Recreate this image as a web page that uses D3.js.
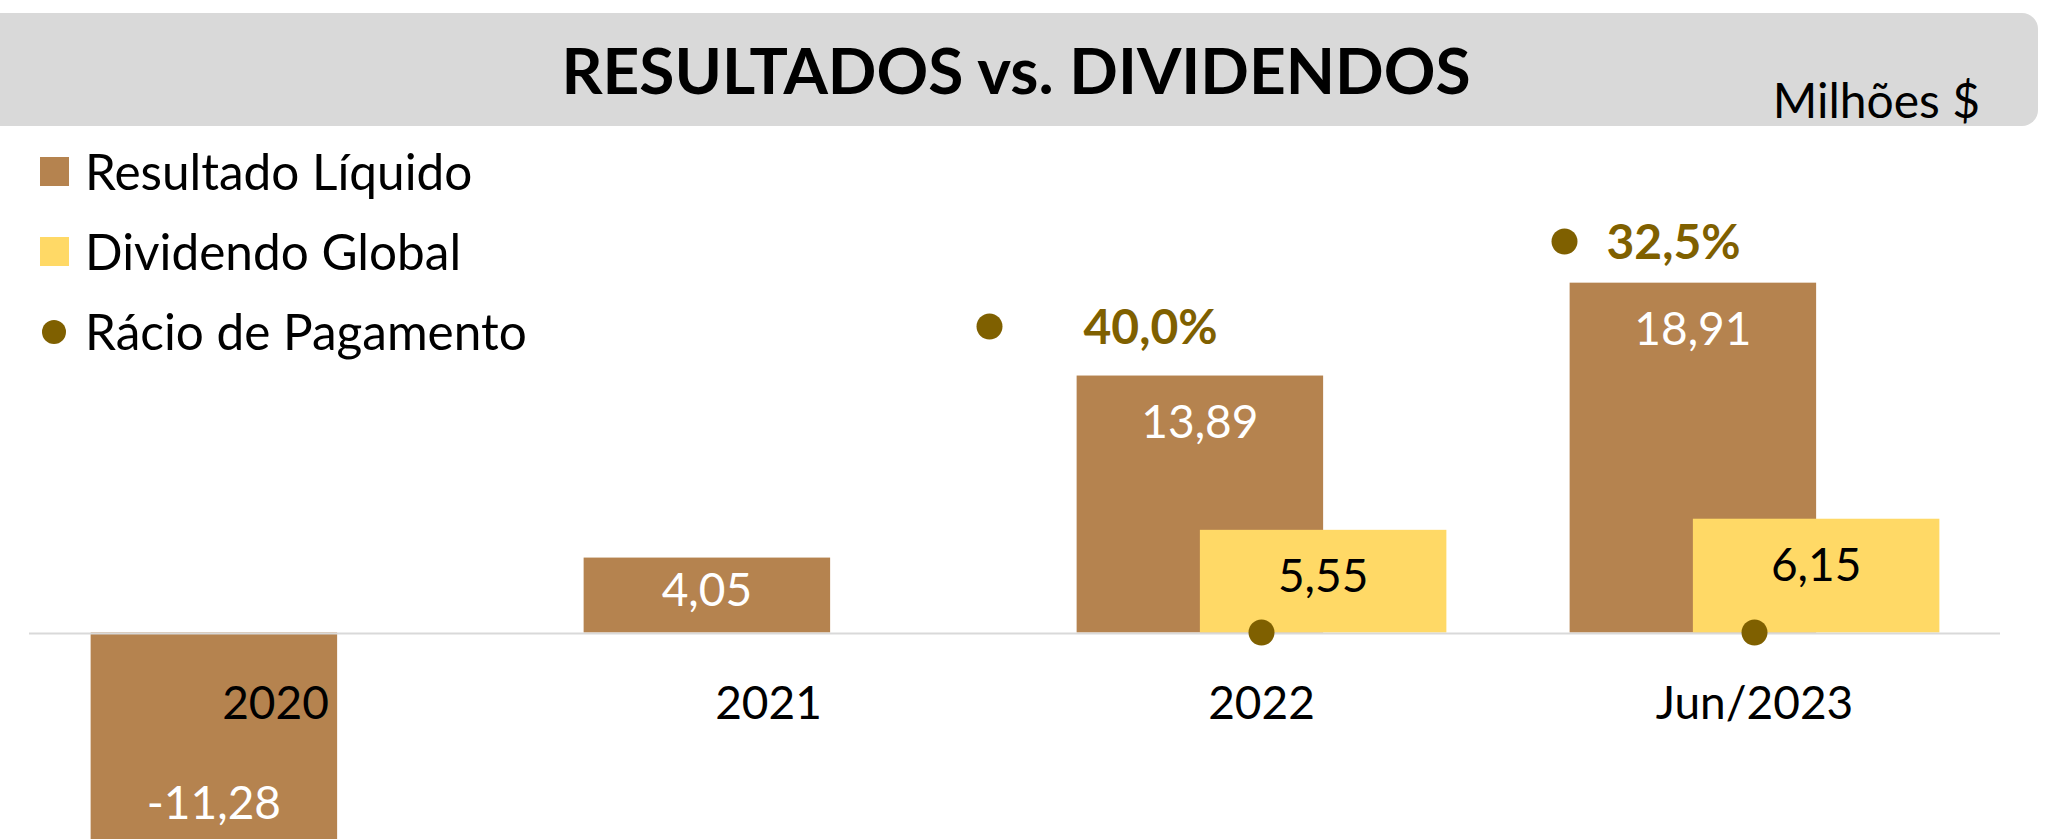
<!DOCTYPE html>
<head>
  <meta charset="utf-8">
  <script src="https://d3js.org/d3.v7.min.js"></script>
  <style>
    body { margin:0; background:#fff; overflow:hidden; }
    text { font-family: Lato, "Open Sans", sans-serif; }
  </style>
</head>
<body>
<script>
// data
var categories = ["2020", "2021", "2022", "Jun/2023"];
var resultado  = [-11.28, 4.05, 13.89, 18.91];
var dividendo  = [null, null, 5.55, 6.15];
var racio      = [null, null, 40.0, 32.5];
var seriesNames = ["Resultado Líquido", "Dividendo Global", "Rácio de Pagamento"];

// layout (manually placed ratio labels, as in the original sheet)
var racioLabelOffset = [null, null, {dot:[-272, -306], text:-178}, {dot:[-190, -391], text:-148}];

var width = 2055, height = 839;
var brown = "#b5834f", yellow = "#ffd966", olive = "#7f6000";

var pt = d3.formatLocale({decimal: ",", thousands: ".", grouping: [3], currency: ["", "$"], minus: "-"});
var fmt = pt.format(".2f"), fmtPct = pt.format(".1f");

var svg = d3.select("body").append("svg")
  .attr("width", width)
  .attr("height", height);

// title banner
svg.append("rect")
  .attr("x", -20).attr("y", 13)
  .attr("width", 2058).attr("height", 113)
  .attr("rx", 16)
  .attr("fill", "#d9d9d9");

svg.append("text")
  .attr("x", 1016).attr("y", 94)
  .attr("text-anchor", "middle")
  .style("font-size", "64px").style("font-weight", "bold")
  .text("RESULTADOS vs. DIVIDENDOS");

svg.append("text")
  .attr("x", 1980).attr("y", 118)
  .attr("text-anchor", "end")
  .style("font-size", "48px")
  .text("Milhões $");

// scales
var x = d3.scaleBand().domain(categories).range([29, 2001]).padding(0);
var y = d3.scaleLinear().domain([-15, 25]).range([910, 170]);
var bw = x.bandwidth() / 2;

var rows = categories.map(function(c, i) {
  return {cat: c, res: resultado[i], div: dividendo[i], rac: racio[i], off: racioLabelOffset[i]};
});

// bars
svg.selectAll(".res").data(rows).enter().append("rect")
  .attr("class", "res")
  .attr("x", function(d) { return x(d.cat) + x.bandwidth() / 2 - 0.75 * bw; })
  .attr("y", function(d) { return y(Math.max(0, d.res)); })
  .attr("width", bw)
  .attr("height", function(d) { return Math.abs(y(d.res) - y(0)); })
  .attr("fill", brown);

var divRows = rows.filter(function(d) { return d.div != null; });
svg.selectAll(".div").data(divRows).enter().append("rect")
  .attr("class", "div")
  .attr("x", function(d) { return x(d.cat) + x.bandwidth() / 2 - 0.25 * bw; })
  .attr("y", function(d) { return y(d.div); })
  .attr("width", bw)
  .attr("height", function(d) { return y(0) - y(d.div); })
  .attr("fill", yellow);

// zero line
svg.append("line")
  .attr("x1", 29).attr("x2", 2000)
  .attr("y1", y(0) + 1).attr("y2", y(0) + 1)
  .attr("stroke", "#d9d9d9").attr("stroke-width", 2);

// value labels (inside end)
function labelY(v) {
  var h = Math.abs(y(v) - y(0));
  var off = Math.min(46, h / 2 - 6);
  return v >= 0 ? y(v) + off : y(v) - off + 7;
}
svg.selectAll(".resLbl").data(rows).enter().append("text")
  .attr("x", function(d) { return x(d.cat) + x.bandwidth() / 2 - 0.25 * bw; })
  .attr("y", function(d) { return labelY(d.res); })
  .attr("dy", "0.36em")
  .attr("text-anchor", "middle")
  .attr("fill", "#fff")
  .style("font-size", "46px")
  .text(function(d) { return fmt(d.res); });

svg.selectAll(".divLbl").data(divRows).enter().append("text")
  .attr("x", function(d) { return x(d.cat) + x.bandwidth() / 2 + 0.25 * bw; })
  .attr("y", function(d) { return labelY(d.div); })
  .attr("dy", "0.36em")
  .attr("text-anchor", "middle")
  .attr("fill", "#000")
  .style("font-size", "46px")
  .text(function(d) { return fmt(d.div); });

// category labels
svg.selectAll(".cat").data(categories).enter().append("text")
  .attr("x", function(d) { return x(d) + x.bandwidth() / 2; })
  .attr("y", 719)
  .attr("text-anchor", "middle")
  .style("font-size", "46px")
  .text(function(d) { return d; });

// payout ratio points
var racRows = rows.filter(function(d) { return d.rac != null; });
svg.selectAll(".rac").data(racRows).enter().append("circle")
  .attr("cx", function(d) { return x(d.cat) + x.bandwidth() / 2; })
  .attr("cy", y(0))
  .attr("r", 13)
  .attr("fill", olive);

var racLbl = svg.selectAll(".racLbl").data(racRows).enter().append("g");
racLbl.append("circle")
  .attr("cx", function(d) { return x(d.cat) + x.bandwidth() / 2 + d.off.dot[0]; })
  .attr("cy", function(d) { return y(0) + d.off.dot[1]; })
  .attr("r", 13)
  .attr("fill", olive);
racLbl.append("text")
  .attr("x", function(d) { return x(d.cat) + x.bandwidth() / 2 + d.off.text; })
  .attr("y", function(d) { return y(0) + d.off.dot[1]; })
  .attr("dy", "0.36em")
  .attr("fill", olive)
  .style("font-size", "48px").style("font-weight", "bold")
  .text(function(d) { return fmtPct(d.rac) + "%"; });

// legend
var legendY = [172, 252, 332];
var leg = svg.selectAll(".leg").data(seriesNames).enter().append("g")
  .attr("transform", function(d, i) { return "translate(0," + legendY[i] + ")"; });
leg.each(function(d, i) {
  var g = d3.select(this);
  if (i < 2) {
    g.append("rect").attr("x", 40).attr("y", -15).attr("width", 29).attr("height", 29)
      .attr("fill", i == 0 ? brown : yellow);
  } else {
    g.append("circle").attr("cx", 54).attr("cy", 0).attr("r", 12).attr("fill", olive);
  }
  g.append("text")
    .attr("x", 85).attr("y", 0).attr("dy", "0.36em")
    .style("font-size", "49.5px")
    .text(d);
});
</script>
</body>
